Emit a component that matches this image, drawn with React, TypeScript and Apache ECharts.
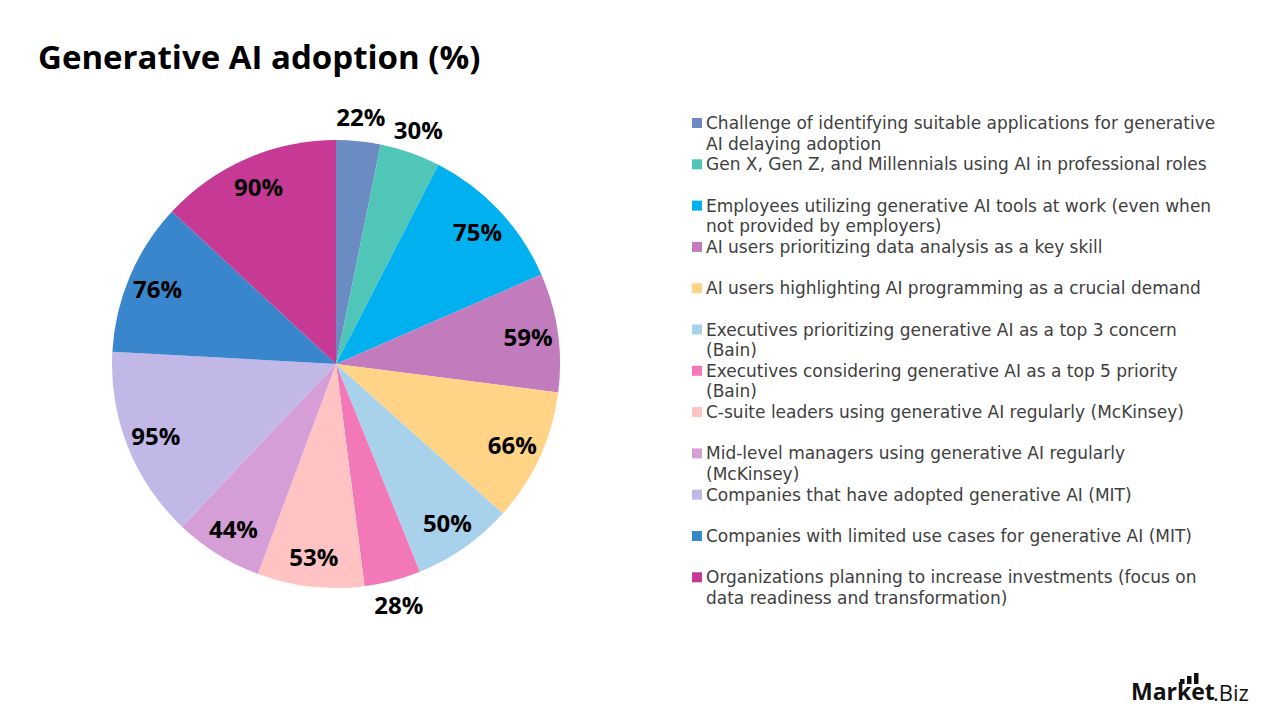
import React, { useEffect, useRef } from "react";
import * as echarts from "echarts";

// Slice names (explicit line breaks where the legend wraps)
const categories: string[] = [
  "Challenge of identifying suitable applications for generative\nAI delaying adoption",
  "Gen X, Gen Z, and Millennials using AI in professional roles",
  "Employees utilizing generative AI tools at work (even when\nnot provided by employers)",
  "AI users prioritizing data analysis as a key skill",
  "AI users highlighting AI programming as a crucial demand",
  "Executives prioritizing generative AI as a top 3 concern\n(Bain)",
  "Executives considering generative AI as a top 5 priority\n(Bain)",
  "C-suite leaders using generative AI regularly (McKinsey)",
  "Mid-level managers using generative AI regularly\n(McKinsey)",
  "Companies that have adopted generative AI (MIT)",
  "Companies with limited use cases for generative AI (MIT)",
  "Organizations planning to increase investments (focus on\ndata readiness and transformation)",
];

// Adoption share, percent
const values: number[] = [22, 30, 75, 59, 66, 50, 28, 53, 44, 95, 76, 90];

const colors: string[] = [
  "#6B8CC2",
  "#4FC6B8",
  "#00B0EF",
  "#C27BBC",
  "#FFD487",
  "#A8D2EB",
  "#F378B8",
  "#FFC3C3",
  "#D69ED6",
  "#C1B8E8",
  "#3A86CD",
  "#C63A95",
];

// Thin slices get their value label just outside the rim
const OUTSIDE_BELOW = 35;

const FONT = "'Open Sans', 'Noto Sans', sans-serif";
const LEGEND_FONT = "'DejaVu Sans', 'Open Sans', sans-serif";

export default function App() {
  const ref = useRef<HTMLDivElement>(null);

  useEffect(() => {
    if (!ref.current) return;
    const chart = echarts.init(ref.current, undefined, { renderer: "svg" });

    const cx = 336;
    const cy = 364;
    const r = 224;

    const baseData = values.map((v, i) => ({
      name: categories[i],
      value: v,
      itemStyle: { color: colors[i] },
    }));

    const labelStyle = {
      formatter: "{c}%",
      position: "inside" as const,
      color: "#000",
      fontFamily: FONT,
      fontWeight: "bold" as const,
      fontSize: 24,
    };

    const ghost = { color: "rgba(0,0,0,0)", borderWidth: 0 };

    // Legend built as graphic rows
    const legendTop = 123;
    const legendStep = 41.3;
    const legendItems: any[] = [];
    categories.forEach((name, i) => {
      const y = legendTop + i * legendStep;
      legendItems.push({
        type: "rect",
        shape: { x: 692, y: y - 5, width: 10, height: 10 },
        style: { fill: colors[i] },
      });
      legendItems.push({
        type: "text",
        x: 706,
        y: y - 10.25,
        style: {
          text: name,
          font: `17px ${LEGEND_FONT}`,
          fill: "#404040",
          lineHeight: 20.5,
          verticalAlign: "top",
          align: "left",
        },
      });
    });

    const ink = "#111111";

    chart.setOption({
      animation: false,
      backgroundColor: "#ffffff",
      title: {
        text: "Generative AI adoption (%)",
        left: 33,
        top: 35,
        textStyle: {
          fontFamily: FONT,
          fontWeight: "bold",
          fontSize: 33,
          color: "#000",
        },
      },
      series: [
        {
          type: "pie",
          center: [cx, cy],
          radius: [0, r],
          startAngle: 90,
          clockwise: true,
          silent: true,
          label: { show: false },
          labelLine: { show: false },
          data: baseData,
        },
        {
          // label ring inside the rim
          type: "pie",
          center: [cx, cy],
          radius: [r * 0.705, r],
          startAngle: 90,
          clockwise: true,
          silent: true,
          avoidLabelOverlap: false,
          itemStyle: ghost,
          labelLine: { show: false },
          data: values.map((v, i) => ({
            name: categories[i],
            value: v,
            label: { show: v >= OUTSIDE_BELOW, ...labelStyle },
          })),
        },
        {
          // label ring just outside the rim
          type: "pie",
          center: [cx, cy],
          radius: [r, r * 1.19],
          startAngle: 90,
          clockwise: true,
          silent: true,
          avoidLabelOverlap: false,
          itemStyle: ghost,
          labelLine: { show: false },
          data: values.map((v, i) => ({
            name: categories[i],
            value: v,
            label: { show: v < OUTSIDE_BELOW, ...labelStyle },
          })),
        },
      ],
      graphic: [
        ...legendItems,
        // brand mark
        {
          type: "group",
          x: 1131,
          y: 0,
          children: [
            { type: "rect", shape: { x: 49, y: 679, width: 4.5, height: 5 }, style: { fill: ink } },
            { type: "rect", shape: { x: 56, y: 676, width: 4.5, height: 8 }, style: { fill: ink } },
            { type: "rect", shape: { x: 63, y: 673, width: 4.5, height: 11 }, style: { fill: ink } },
            {
              type: "text",
              x: 0,
              y: 691,
              style: {
                text: "Market",
                font: `bold 23px ${FONT}`,
                fill: ink,
                verticalAlign: "middle",
              },
            },
            {
              type: "text",
              x: 82,
              y: 692,
              style: {
                text: ".Biz",
                font: `22px ${FONT}`,
                fill: ink,
                verticalAlign: "middle",
              },
            },
          ],
        },
      ],
    });

    return () => chart.dispose();
  }, []);

  return (
    <div
      ref={ref}
      style={{ position: "fixed", left: 0, top: 0, width: 1280, height: 720 }}
    />
  );
}
